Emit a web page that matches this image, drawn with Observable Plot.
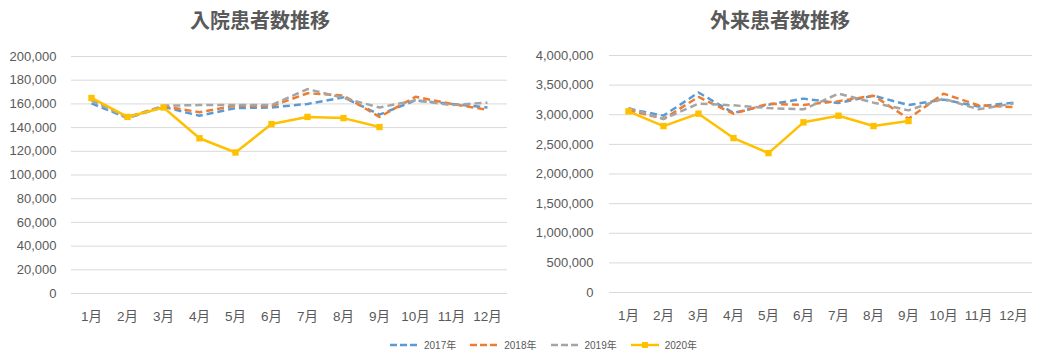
<!DOCTYPE html>
<html>
<head>
<meta charset="utf-8">
<script src="https://cdn.jsdelivr.net/npm/d3@7"></script>
<script src="https://cdn.jsdelivr.net/npm/@observablehq/plot@0.6"></script>
<style>
  html, body { margin: 0; padding: 0; background: #fff; }
  #root { position: relative; width: 1040px; height: 359px; overflow: hidden; font-family: "Liberation Sans", "Noto Sans CJK JP", sans-serif; }
  .title { position: absolute; z-index: 2; top: 7px; width: 520px; text-align: center; font-size: 20px; font-weight: bold; color: #595959; font-family: "Noto Sans CJK JP", sans-serif; line-height: 26px; }
  .chart { position: absolute; top: 0; z-index: 1; }
  #legend { position: absolute; z-index: 2; top: 337px; left: 0; width: 1040px; box-sizing: border-box; padding-left: 46px; display: flex; justify-content: center; font-size: 10px; color: #595959; font-family: "Liberation Sans", "Noto Sans CJK JP", sans-serif; }
  .item { display: flex; align-items: center; margin: 0 6.5px; }
  .item svg { margin-right: 5px; }
</style>
</head>
<body>
<div id="root">
  <div class="chart" id="c1" style="left:0"></div>
  <div class="chart" id="c2" style="left:520px"></div>
  <div class="title" style="left:0">入院患者数推移</div>
  <div class="title" style="left:520px">外来患者数推移</div>
  <div id="legend"></div>
</div>
<script>
const months = ["1月","2月","3月","4月","5月","6月","7月","8月","9月","10月","11月","12月"];
const years = ["2017年","2018年","2019年","2020年"];
const colors = ["#5B9BD5","#ED7D31","#A5A5A5","#FFC000"];

// 入院患者数
const in2017 = [160500,148000,157500,150000,156500,157000,160000,165500,151000,163000,160000,157000];
const in2018 = [164000,149000,158000,153000,158500,158000,169000,167000,149000,166000,160000,155000];
const in2019 = [163000,148000,158500,159000,159000,159000,172500,165000,157000,163000,159000,161000];
const in2020 = [165000,149000,157000,131000,119000,143000,149000,148000,140500];

// 外来患者数
const out2017 = [3100000,2985000,3375000,3030000,3170000,3272000,3198000,3322000,3164000,3255000,3140000,3205000];
const out2018 = [3080000,2930000,3300000,3018000,3187000,3164000,3230000,3322000,2934000,3356000,3160000,3130000];
const out2019 = [3113000,2928000,3187000,3159000,3113000,3091000,3356000,3204000,3074000,3272000,3091000,3190000];
const out2020 = [3057000,2809000,3018000,2606000,2353000,2872000,2984000,2809000,2894000];

const inTicks = d3.range(0, 200001, 20000);
const outTicks = d3.range(0, 4000001, 500000);

function table(series) {
  const rows = [];
  series.forEach((vals, i) => vals.forEach((v, j) => rows.push({month: months[j], year: years[i], value: v})));
  return rows;
}

function chart(series, ticks, ymax, opts) {
  const rows = table(series);
  const dashed = rows.filter(d => d.year !== "2020年");
  const solid = rows.filter(d => d.year === "2020年");
  return Plot.plot({
    width: 520,
    height: 330,
    marginTop: opts.top,
    marginBottom: 330 - opts.bottomY,
    marginLeft: opts.left,
    marginRight: opts.right,
    style: {fontFamily: '"Liberation Sans", "Noto Sans CJK JP", sans-serif', fontSize: "13px", color: "#595959", background: "transparent"},
    x: {type: "point", domain: months, padding: 0.5, label: null},
    y: {domain: [0, ymax], label: null},
    color: {domain: years, range: colors},
    marks: [
      Plot.ruleY(ticks, {stroke: "#D9D9D9", strokeWidth: 1}),
      Plot.axisY({ticks, tickSize: 0, tickPadding: opts.pad, tickFormat: d3.format(","), fontSize: 13, fill: "#595959"}),
      Plot.axisX({tickSize: 0, tickPadding: 18, fontSize: 13.5, fill: "#595959"}),
      Plot.line(dashed, {x: "month", y: "value", z: "year", stroke: "year", strokeWidth: 2.5, strokeDasharray: "7,4", strokeLinecap: "butt"}),
      Plot.line(solid, {x: "month", y: "value", stroke: "year", strokeWidth: 2.5}),
      Plot.dot(solid, {x: "month", y: "value", symbol: "square", fill: "year", r: 3.6, stroke: null})
    ]
  });
}

document.getElementById("c1").append(chart([in2017, in2018, in2019, in2020], inTicks, 200000, {top: 56, bottomY: 293, left: 71, right: 13, pad: 15}));
document.getElementById("c2").append(chart([out2017, out2018, out2019, out2020], outTicks, 4000000, {top: 55, bottomY: 292, left: 89, right: 8, pad: 16}));

const legend = document.getElementById("legend");
years.forEach((y, i) => {
  const item = document.createElement("div");
  item.className = "item";
  const solid = y === "2020年";
  item.innerHTML = `<svg width="30" height="14"><line x1="1" y1="7" x2="29" y2="7" stroke="${colors[i]}" stroke-width="2.5" ${solid ? "" : 'stroke-dasharray="7,3"'}/>${solid ? `<rect x="12" y="4" width="6" height="6" fill="${colors[i]}"/>` : ""}</svg><span>${y}</span>`;
  legend.append(item);
});
</script>
</body>
</html>
